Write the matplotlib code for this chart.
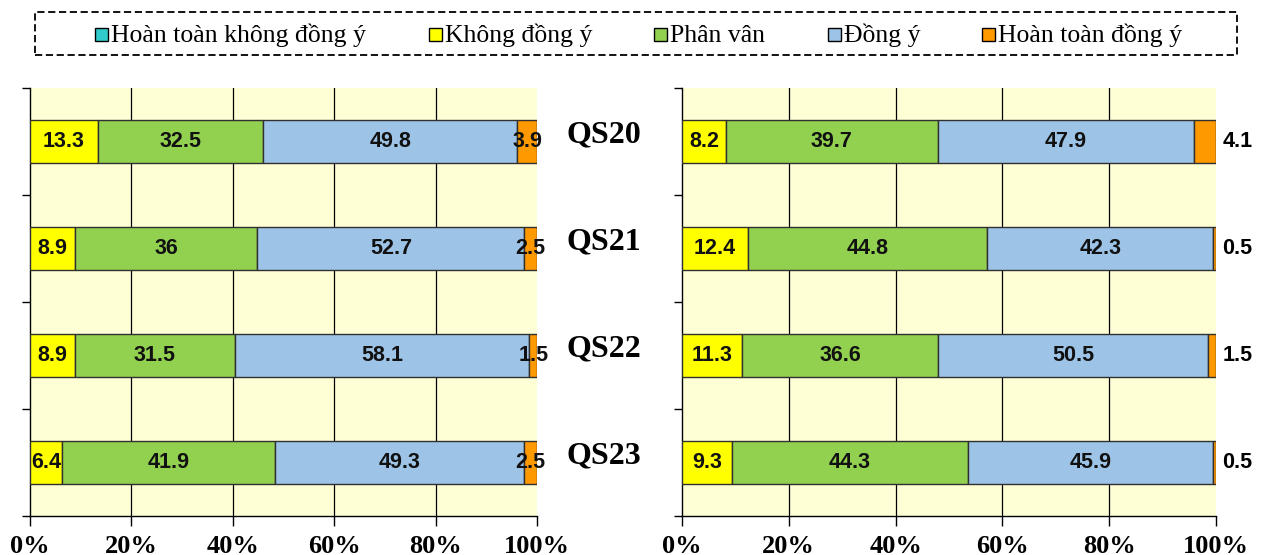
import matplotlib
matplotlib.use("Agg")
import matplotlib.pyplot as plt
from matplotlib import font_manager as fm
from matplotlib.patches import Rectangle
import numpy as np

# ---- data -------------------------------------------------------------
categories = ["QS20", "QS21", "QS22", "QS23"]
series_names = ["Hoàn toàn không đồng ý", "Không đồng ý", "Phân vân",
                "Đồng ý", "Hoàn toàn đồng ý"]

left_strongly_disagree = [0, 0, 0, 0]
left_disagree = [13.3, 8.9, 8.9, 6.4]
left_neutral = [32.5, 36, 31.5, 41.9]
left_agree = [49.8, 52.7, 58.1, 49.3]
left_strongly_agree = [3.9, 2.5, 1.5, 2.5]

right_strongly_disagree = [0, 0, 0, 0]
right_disagree = [8.2, 12.4, 11.3, 9.3]
right_neutral = [39.7, 44.8, 36.6, 44.3]
right_agree = [47.9, 42.3, 50.5, 45.9]
right_strongly_agree = [4.1, 0.5, 1.5, 0.5]

x_ticks = [0, 20, 40, 60, 80, 100]
x_tick_labels = ["0%", "20%", "40%", "60%", "80%", "100%"]

# ---- style ------------------------------------------------------------
colors = ["#33CCCC", "#FFFF00", "#92D050", "#9DC3E6", "#FF9900"]
plot_bg = "#FFFFD6"
serif_font = ["Liberation Serif", "DejaVu Serif"]

# value labels: a narrow sans if one is installed, otherwise a regular one
installed = {f.name for f in fm.fontManager.ttflist}
if "Liberation Sans Narrow" in installed:
    label_font = ["Liberation Sans Narrow", "DejaVu Sans"]
    label_size = 18
else:
    label_font = ["Liberation Sans", "DejaVu Sans"]
    label_size = 15.5

W, H = 1264, 555
fig = plt.figure(figsize=(W / 100, H / 100), dpi=100)

ax_l = fig.add_axes([30 / W, 1 - 516 / H, (537 - 30) / W, (516 - 88) / H])
ax_r = fig.add_axes([682 / W, 1 - 516 / H, (1216 - 682) / W, (516 - 88) / H])


def draw_panel(ax, values, small_outside):
    data = np.array(values, dtype=float)
    totals = data.sum(axis=0)
    shares = data / totals * 100
    y = np.arange(len(categories)) + 0.5
    left = np.zeros(len(categories))
    ax.set_facecolor(plot_bg)
    for k in range(len(series_names)):
        ax.barh(y, shares[k], left=left, height=0.41, color=colors[k],
                edgecolor="#303030", linewidth=1.0, zorder=3)
        for i in range(len(categories)):
            v = data[k, i]
            if v <= 0:
                continue
            txt = f"{v:g}"
            if k == len(series_names) - 1 and small_outside:
                ax.annotate(txt, xy=(100, y[i]), xytext=(15.5, 0),
                            textcoords="offset points", ha="center",
                            va="center", fontsize=label_size,
                            fontweight="bold", family=label_font,
                            annotation_clip=False)
            else:
                ax.text(left[i] + shares[k, i] / 2, y[i], txt, ha="center",
                        va="center", fontsize=label_size, fontweight="bold",
                        family=label_font, color="#111111", zorder=5)
        left += shares[k]

    ax.set_xlim(0, 100)
    ax.set_ylim(len(categories), 0)
    ax.set_yticks(np.arange(len(categories) + 1))
    ax.set_yticklabels([])
    ax.set_xticks(x_ticks)
    ax.set_xticklabels(x_tick_labels, fontsize=19, fontweight="bold",
                       family=serif_font)
    ax.tick_params(axis="y", direction="out", length=6, width=1)
    ax.tick_params(axis="x", direction="out", length=7, width=1, pad=7)
    for xv in x_ticks[1:-1]:
        ax.axvline(xv, color="black", linewidth=0.9, zorder=1)
    for side in ("top", "right"):
        ax.spines[side].set_visible(False)
    for side in ("left", "bottom"):
        ax.spines[side].set_linewidth(1)
    return y


y_pos = draw_panel(ax_l, [left_strongly_disagree, left_disagree, left_neutral,
                          left_agree, left_strongly_agree], False)
draw_panel(ax_r, [right_strongly_disagree, right_disagree, right_neutral,
                  right_agree, right_strongly_agree], True)

# category names between the two panels
for i, cat in enumerate(categories):
    ax_l.annotate(cat, xy=(100, y_pos[i]), xytext=(48, 5),
                  textcoords="offset points", ha="center", va="center",
                  fontsize=23, fontweight="bold", family=serif_font,
                  annotation_clip=False)

# legend in a dashed box across the top
fig.patches.append(Rectangle((35 / W, 1 - 55 / H), (1237 - 35) / W, 43 / H,
                             transform=fig.transFigure, fill=False,
                             edgecolor="black", linestyle=(0, (4, 2)),
                             linewidth=1.3))
legend_x = [95, 429, 654, 828, 982]
for name, col, x0 in zip(series_names, colors, legend_x):
    fig.patches.append(Rectangle((x0 / W, 1 - 41 / H), 13 / W, 13 / H,
                                 transform=fig.transFigure, facecolor=col,
                                 edgecolor="black", linewidth=1.0))
    fig.text((x0 + 16) / W, 1 - 42 / H, name, ha="left", va="baseline",
             fontsize=18.5, family=serif_font)

fig.savefig("out.png", dpi=100)
